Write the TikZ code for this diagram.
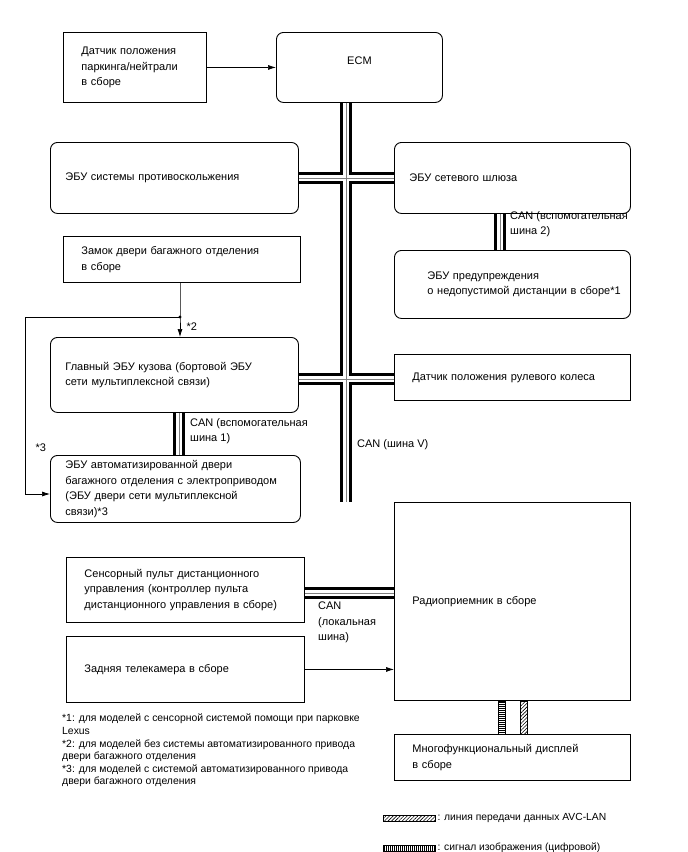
\documentclass[tikz,border=0pt]{standalone}
\usepackage{fontspec}
\setmainfont{Liberation Sans}
\usetikzlibrary{arrows.meta,positioning,patterns.meta}

\begin{document}
\begin{tikzpicture}[x=1pt,y=-1pt,font=\fontsize{11}{15.5}\selectfont,>={Latex[length=8pt,width=5pt]},
 box/.style={draw,line width=0.9pt,anchor=north west,align=left,inner xsep=18pt,inner ysep=0pt},
 rbox/.style={box,rounded corners=7pt,inner xsep=15pt},
 lbl/.style={anchor=north west,align=left,inner sep=0pt},
 line/.style={->,line width=0.7pt},
 busout/.style={line width=3pt,double=white,double distance=6.5pt},
 busmid/.style={draw=gray,line width=0.6pt},
 avc/.style={draw,line width=0.6pt,pattern={Lines[angle=45,distance=2.5pt,line width=0.6pt]}},
 vid/.style={draw,line width=0.6pt,pattern={Lines[angle=0,distance=2pt,line width=0.6pt]}},
 vidh/.style={draw,line width=0.6pt,pattern={Lines[angle=90,distance=2pt,line width=0.6pt]}}]
\useasboundingbox (0,0) rectangle (688,852);
\node[box,text width=107pt,minimum height=70pt] (park) at (63,32) {Датчик положения\\паркинга/нейтрали\\в сборе};
\node[rbox,align=center,text width=136pt,minimum height=70pt,text depth=14pt] (ecm) at (276,32) {ECM};
\node[rbox,text width=218pt,minimum height=71pt] (abs) at (50,142) {ЭБУ системы противоскольжения};
\node[rbox,text width=206pt,minimum height=71pt] (gw) at (394,142) {ЭБУ сетевого шлюза};
\node[rbox,inner xsep=6pt,text width=224pt,minimum height=68pt] (dist) at (394,250) {\hspace*{27pt}ЭБУ предупреждения\\\hspace*{27pt}о недопустимой дистанции в сборе*1};
\node[box,text width=201pt,minimum height=46pt] (lock) at (63,236) {Замок двери багажного отделения\\в сборе};
\node[rbox,text width=218pt,minimum height=75pt] (body) at (50,337) {Главный ЭБУ кузова (бортовой ЭБУ\\сети мультиплексной связи)};
\node[box,text width=200pt,minimum height=46pt] (steer) at (394,354) {Датчик положения рулевого колеса};
\node[rbox,text width=220pt,minimum height=67pt] (door) at (50,455) {ЭБУ автоматизированной двери\\багажного отделения с электроприводом\\(ЭБУ двери сети мультиплексной\\связи)*3};
\node[box,text width=200pt,minimum height=198pt] (radio) at (394,502) {Радиоприемник в сборе};
\node[box,text width=202pt,minimum height=65pt] (touch) at (66,557) {Сенсорный пульт дистанционного\\управления (контроллер пульта\\дистанционного управления в сборе)};
\node[box,text width=202pt,minimum height=66pt] (cam) at (66,636) {Задняя телекамера в сборе};
\node[box,text width=200pt,minimum height=46pt] (disp) at (394,734) {Многофункциональный дисплей\\в сборе};
\coordinate (vbus) at (346,0);\coordinate (hbus) at (0,379);\coordinate (bbus) at (179,0);
\coordinate (cbus) at (500,0);\coordinate (lbus) at (0,593);
\foreach \s in {busout,busmid}
 \draw[\s] (ecm.south -| vbus) -- (radio.north -| vbus) (abs.east) -- (gw.west)
  (body.east |- hbus) -- (steer.west |- hbus) (body.south -| bbus) -- (door.north -| bbus)
  (gw.south -| cbus) -- (dist.north -| cbus) (touch.east |- lbus) -- (radio.west |- lbus);
\node[lbl] (can2) at (510,211) {CAN (вспомогательная\\шина 2)};
\node[lbl] (can1) at (190,418) {CAN (вспомогательная\\шина 1)};
\node[lbl] (canv) at (357,439) {CAN (шина V)};
\node[lbl] (canl) at (318,602) {CAN\\(локальная\\шина)};
\draw[line] (park.east) -- (ecm.west);
\coordinate (jn) at (180,317);\coordinate (side) at (25,494);
\draw[line] (lock.south -| jn) -- (jn) -- node[right=3pt] (s2) {*2} (body.north -| jn);
\draw[line] (jn) -| node[pos=.87,right=7pt] (s3) {*3} (side) -- (side -| door.west);
\fill (jn) circle (1.6pt);
\draw[line] (cam.east) -- (cam.east -| radio.west);
\coordinate (v1) at (498,0);\coordinate (v2) at (505,0);
\coordinate (a1) at (520,0);\coordinate (a2) at (527,0);
\draw[vid] (radio.south -| v1) rectangle (disp.north -| v2);
\draw[avc] (radio.south -| a1) rectangle (disp.north -| a2);
\node[lbl,font=\fontsize{10.4}{12.6}\selectfont] (notes) at (62,714) {*1: для моделей с сенсорной системой помощи при парковке\\Lexus\\*2: для моделей без системы автоматизированного привода\\двери багажного отделения\\*3: для моделей с системой автоматизированного привода\\двери багажного отделения};
\node[avc,minimum width=52pt,minimum height=6pt,inner sep=0pt] (keyavc) at (409,818) {};
\node[right=2pt of keyavc,inner sep=0pt,font=\fontsize{10.3}{12}\selectfont] (keyavct) {: линия передачи данных AVC-LAN};
\node[vidh,minimum width=52pt,minimum height=6pt,inner sep=0pt] (keyvid) at (409,848) {};
\node[right=2pt of keyvid,inner sep=0pt,font=\fontsize{10.3}{12}\selectfont] (keyvidt) {: сигнал изображения (цифровой)};
\end{tikzpicture}
\end{document}
